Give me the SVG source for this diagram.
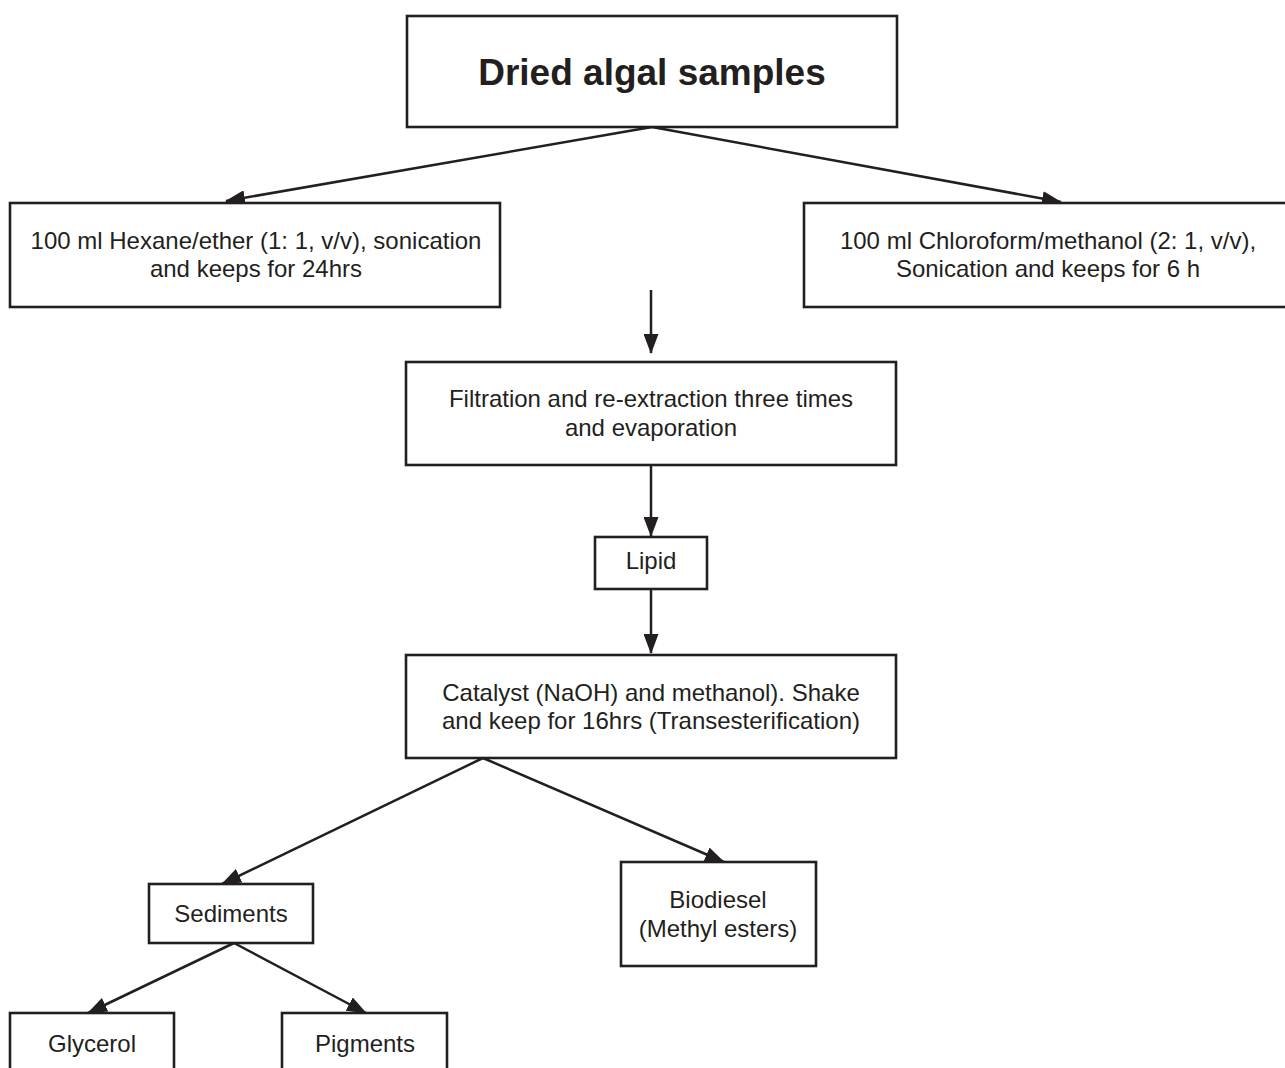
<svg xmlns="http://www.w3.org/2000/svg" width="1285" height="1068" viewBox="0 0 1285 1068">
<style>
.box{fill:#fff;stroke:#231f20;stroke-width:2.6}
.t{font-family:"Liberation Sans",Arial,sans-serif;font-size:24px;fill:#231f20;text-anchor:middle}
.tb{font-family:"Liberation Sans",Arial,sans-serif;font-size:37px;font-weight:bold;fill:#231f20;text-anchor:middle}
.c{stroke:#231f20;stroke-width:2.5;fill:none;marker-end:url(#ah)}
</style>
<defs>
<marker id="ah" markerWidth="20" markerHeight="15" refX="19" refY="7.5" orient="auto" markerUnits="userSpaceOnUse">
<path d="M0,0 L20,7.5 L0,15 Z" fill="#231f20"/>
</marker>
</defs>
<rect width="1285" height="1068" fill="#fff"/>
<g id="connectors">
<line class="c" x1="652" y1="127" x2="226" y2="201"/>
<line class="c" x1="652" y1="127" x2="1061" y2="202"/>
<line class="c" x1="651" y1="290" x2="651" y2="353"/>
<line class="c" x1="651" y1="465" x2="651" y2="536"/>
<line class="c" x1="651" y1="589" x2="651" y2="653"/>
<line class="c" x1="483" y1="758" x2="222" y2="884"/>
<line class="c" x1="483" y1="758" x2="724" y2="862"/>
<line class="c" x1="234" y1="943" x2="88" y2="1013"/>
<line class="c" x1="234" y1="943" x2="366" y2="1013"/>
</g>
<g id="n-dried">
<rect class="box" x="407" y="16" width="490" height="111"/>
<text class="tb" x="652" y="85">Dried algal samples</text>
</g>
<g id="n-hexane">
<rect class="box" x="10" y="203" width="490" height="104"/>
<text class="t" x="256" y="249">100 ml Hexane/ether (1: 1, v/v), sonication</text>
<text class="t" x="256" y="277">and keeps for 24hrs</text>
</g>
<g id="n-chloro">
<rect class="box" x="804" y="203" width="488" height="104"/>
<text class="t" x="1048" y="249">100 ml Chloroform/methanol (2: 1, v/v),</text>
<text class="t" x="1048" y="277">Sonication and keeps for 6 h</text>
</g>
<g id="n-filtration">
<rect class="box" x="406" y="362" width="490" height="103"/>
<text class="t" x="651" y="407">Filtration and re-extraction three times</text>
<text class="t" x="651" y="436">and evaporation</text>
</g>
<g id="n-lipid">
<rect class="box" x="595" y="537" width="112" height="52"/>
<text class="t" x="651" y="569">Lipid</text>
</g>
<g id="n-catalyst">
<rect class="box" x="406" y="655" width="490" height="103"/>
<text class="t" x="651" y="701">Catalyst (NaOH) and methanol). Shake</text>
<text class="t" x="651" y="729">and keep for 16hrs (Transesterification)</text>
</g>
<g id="n-sediments">
<rect class="box" x="149" y="884" width="164" height="59"/>
<text class="t" x="231" y="922">Sediments</text>
</g>
<g id="n-biodiesel">
<rect class="box" x="621" y="862" width="195" height="104"/>
<text class="t" x="718" y="908">Biodiesel</text>
<text class="t" x="718" y="937">(Methyl esters)</text>
</g>
<g id="n-glycerol">
<rect class="box" x="10" y="1013" width="164" height="70"/>
<text class="t" x="92" y="1052">Glycerol</text>
</g>
<g id="n-pigments">
<rect class="box" x="282" y="1013" width="165" height="70"/>
<text class="t" x="365" y="1052">Pigments</text>
</g>
</svg>
